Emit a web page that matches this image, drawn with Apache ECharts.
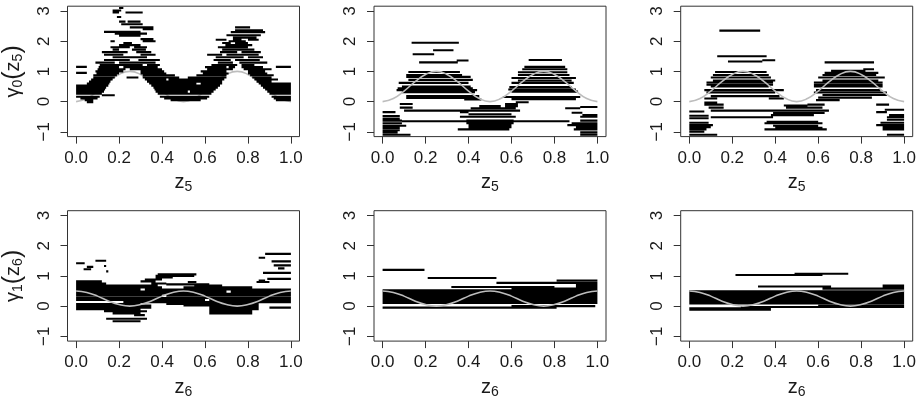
<!DOCTYPE html>
<html><head><meta charset="utf-8">
<style>html,body{margin:0;padding:0;background:#fff}#c{width:920px;height:409px}</style>
<script src="https://cdn.jsdelivr.net/npm/echarts@6/dist/echarts.min.js"></script>
</head><body><div id="c"></div>
<script>
// Each row: [y, x0, x1, x0, x1, ...] horizontal runs
const rowsTopA = [
[3.1,.2,.22],[3.02,.17,.21],[2.95,.17,.2,.23,.31],[2.8,.19,.21],[2.65,.2,.23,.24,.3],[2.56,.21,.31],[2.46,.25,.36],[2.4,.31,.36],
[2.31,.13,.2,.18,.3],[2.25,.18,.33],[2.18,.2,.3],[2.07,.3,.36],[2.0,.16,.18,.31,.37],[1.94,.22,.26,.68,.72,.74,.8],
[2.46,.74,.81],[2.36,.74,.87],[2.3,.72,.88],[2.2,.7,.86],[2.12,.73,.84],[2.05,.65,.7,.73,.77,.8,.85],[2.0,.71,.79],
[1.87,.2,.3,.695,.82],[1.8,.16,.25,.27,.33,.66,.8],[1.72,.17,.2,.26,.325,.68,.83],[1.64,.12,.24,.28,.35,.67,.75,.77,.86],[1.55,.13,.22,.3,.37,.61,.68,.7,.85],[1.47,.17,.33,.65,.78,.8,.87],
[1.38,.13,.25,.29,.39,.64,.72,.74,.855],[1.29,.09,.18,.2,.37,.66,.73,.76,.89],[1.21,.11,.31,.33,.39,.63,.75,.77,.83],[1.14,.105,.2,.22,.38,.6,.7,.71,.74,.77,.87],[1.07,.1,.23,.25,.4,.61,.73,.78,.91],
[1.0,.09,.22,.3,.41,.58,.7,.8,.88],[.93,.095,.2,.3,.42,.59,.71,.8,.89],[.87,.08,.19,.31,.46,.56,.7,.81,.92],[.8,.08,.18,.235,.29,.31,.48,.52,.7,.82,.91],
[.73,.07,.17,.32,.42,.43,.69,.83,.94],[.66,.06,.16,.33,.68,.84,.91],[.6,.05,.155,.34,.56,.58,.68,.85,1],[.53,0,.15,.35,.67,.86,1],[.46,0,.14,.36,.66,.87,1],
[.4,0,.135,.365,.65,.88,1],[.33,0,.13,.37,.52,.53,.64,.89,1],[.26,0,.12,.38,.63,.9,1],[.21,.12,.18],[.16,0,.11,.39,.62,.91,1],[.1,.02,.1,.41,.61,.92,1],[.05,.04,.08,.44,.58,.93,1],[-.02,.05,.08],
[1.15,0,.05,.93,1],[.95,0,.05]
];
const rowsTopB = [
[1.95,.135,.355],[1.7,.235,.33],[1.57,.14,.24],[1.3,.17,.35],[1.36,.345,.4],
[.98,.12,.36],[.88,.11,.37],[.82,.11,.41],[.72,.12,.42],[.62,.075,.4],[.5,.09,.41],[.44,.07,.42],[.38,.065,.44],[.31,.09,.43],[.18,.11,.45],[.12,.11,.45],[.07,.38,.46],
[1.38,.68,.835],[1.15,.66,.85],[1.07,.65,.86],[.97,.63,.86],[.88,.63,.87],[.78,.6,.9],[.7,.63,.88],[.62,.6,.89],[.48,.59,.88],[.4,.585,.9],[.33,.6,.91],[.15,.56,.92],[.08,.6,.9],
[-.02,.62,.68],[-.08,.08,.14,.57,.63],[-.15,.45,.55,.57,.63],[-.22,.41,.62,.85,.92],[-.2,.08,.14],[-.18,.92,1],[-.3,.1,.64],[-.35,.36,.4,0,.06],[-.37,.88,.93],[-.42,.4,.6],[-.5,.36,.62,.92,1],
[-.65,.09,.87],[-.45,.93,1],[-.48,0,.08],[-.56,0,.08],[-.63,0,.09,.39,.61,.92,1],[-.72,0,.09,.39,.61,.88,1],[-.78,.4,.6,.86,1],[-.8,0,.11],[-.85,.4,.6,.9,1],[-.87,0,.08],[-.92,.35,.59,.89,1],[-.95,0,.08],[-1.02,0,.07,.92,1],[-1.1,0,.13,.92,1]
];
const rowsTopC = [
[2.35,.14,.33],[1.5,.13,.36],[1.33,.18,.34],[1.37,.34,.4],[.98,.12,.36],[.88,.11,.37],[.8,.1,.38],[.7,.11,.4],[.63,.08,.39],[.56,.08,.39],[.5,.1,.37],[.38,.07,.44],[.3,.08,.4],[.18,.1,.42],[.1,.07,.13,.37,.44],
[1.3,.63,.86],[1.02,.66,.82],[1.07,.81,.86],[.95,.63,.88],[.88,.62,.87],[.8,.6,.91],[.7,.62,.88],[.63,.58,.9],[.56,.58,.9],[.5,.58,.9],[.38,.59,.89],[.3,.58,.92],[.22,.62,.92],[.13,.6,.85],[.05,.59,.7],
[-.1,.07,.16,.55,.63,.87,.93],[-.03,.07,.13],[-.13,.44,.55],[-.2,.09,.16,.45,.62],[-.27,.91,1],[-.3,.1,.65],[-.33,0,.07],[-.35,.87,.92],[-.38,.39,.63],[-.45,.38,.58,.93,1],[-.47,0,.09],[-.52,.1,.39,.92,1],[-.55,0,.09],[-.6,.92,1],
[-.67,.36,.6],[-.7,0,.09,.89,1],[-.72,.35,.62],[-.78,0,.11,.87,1],[-.8,.39,.6],[-.85,0,.1,.9,1],[-.87,.4,.62],[-.92,0,.08,.35,.64,.9,1],[-1,0,.07],[-1.1,0,.13,.92,1]
];
const rowsBottomA = [
[1.42,0,.04],[1.22,.035,.07],[1.3,.05,.08],[1.5,.09,.14],[1.33,.13,.14],[1.15,.14,.15],
[1.73,.88,1],[1.6,.85,.88],[1.48,.91,1],[1.35,.92,1],[1.25,.94,.97],[1.1,.87,1],[.9,.89,1],[.85,.85,.88],[.8,.84,.9,.52,.56],
[1.05,.38,.56],[1,.37,.55],[.95,.37,.45],[.88,.32,.4],[.82,0,.12,.3,.37],[.75,0,.14,.35,.42],[.72,.42,.62],
[.68,0,.38,.55,.68],[.62,0,.4,.5,.82],[.55,0,.3,.32,1],[.48,0,.7,.72,1],[.41,0,1],[.34,0,.4,.42,1],[.27,0,1],[.2,0,.6,.62,1],[.13,.22,1],[.07,0,.3,.42,.85],[.02,0,.35,.5,.85],[-.05,0,.35,.62,.85,.9,1],[-.1,0,.3,.62,.85],[-.17,.13,.33,.62,.82],[-.24,.17,.3,.62,.82],
[-.3,.27,.32],[-.42,.14,.33],[-.5,.17,.3]
];
const rowsBottomB = [
[1.2,0,.195],[.93,.21,.53],[.85,.81,1],[.77,.53,.78,.78,1],[.7,.9,1],[.63,.32,.8,.9,1],[.58,.6,1],
[.52,0,1],[.46,0,1],[.4,0,1],[.34,0,1],[.28,0,1],[.22,0,1],[.16,0,1],[.1,0,1],[0,.6,.99],[-.05,0,.81]
];
const rowsBottomC = [
[1.03,.215,.62],[1.07,.49,.74],[.65,.32,.66],[.68,.9,1],[.62,.9,1],[.58,.62,.75,.75,1],
[.49,0,1],[.43,0,1],[.37,0,1],[.31,0,1],[.25,0,1],[.19,0,1],[.13,0,1],[.09,0,1],[.01,.6,1],[-.03,.24,1],[-.07,0,.38],[-.12,0,.38]
];
// True curves
const zGrid = [0,.05,.1,.15,.2,.25,.3,.35,.4,.45,.5,.55,.6,.65,.7,.75,.8,.85,.9,.95,1];
const trueGamma0 = [0,.1,.35,.65,.9,1,.9,.65,.35,.1,0,.1,.35,.65,.9,1,.9,.65,.35,.1,0];
const trueGamma1 = [.5,.45,.33,.17,.05,0,.05,.17,.33,.45,.5,.45,.33,.17,.05,0,.05,.17,.33,.45,.5];
const xTicks = [0,.2,.4,.6,.8,1];
const yTicks = [-1,0,1,2,3];

const panels = [
 {rows:rowsTopA,   truth:trueGamma0, col:0,row:0,sub:'5', yname:'{g|γ}{s|0}{p|(}{g|z}{s|5}{p|)}',greyZ:1},
 {rows:rowsTopB,   truth:trueGamma0, col:1,row:0,sub:'5',greyZ:3},
 {rows:rowsTopC,   truth:trueGamma0, col:2,row:0,sub:'5',greyZ:3},
 {rows:rowsBottomA,truth:trueGamma1, col:0,row:1,sub:'6', yname:'{g|γ}{s|1}{p|(}{g|z}{s|6}{p|)}',greyZ:3},
 {rows:rowsBottomB,truth:trueGamma1, col:1,row:1,sub:'6',greyZ:3},
 {rows:rowsBottomC,truth:trueGamma1, col:2,row:1,sub:'6',greyZ:3}
];
const colLeft=[67.5,374,680.7], rowTop=[6.2,210.7];
const FONT='"Liberation Sans",Arial,sans-serif', INK='#1a1a1a';
const rich={
  g:{fontFamily:FONT,fontSize:20,color:INK},
  s:{fontFamily:FONT,fontSize:14,color:INK,padding:[10,0,0,0]},
  p:{fontFamily:FONT,fontSize:25,color:INK}
};
const option={animation:false,backgroundColor:'#fff',grid:[],xAxis:[],yAxis:[],series:[]};
panels.forEach((p,i)=>{
  option.grid.push({left:colLeft[p.col],top:rowTop[p.row],width:232,height:130.4,show:true,borderColor:'#333',borderWidth:1,backgroundColor:'transparent',containLabel:false,outerBoundsMode:'none'});
  option.xAxis.push({type:'value',gridIndex:i,min:-.04,max:1.04,
    name:'{g|z}{s|'+p.sub+'}',nameLocation:'middle',nameGap:34,
    nameTextStyle:{fontFamily:FONT,fontSize:20,color:INK,rich},
    axisLine:{show:false,onZero:false},splitLine:{show:false},
    axisTick:{show:true,length:7,customValues:xTicks,lineStyle:{color:'#333',width:1}},
    axisLabel:{show:true,customValues:xTicks,margin:13,fontFamily:FONT,fontSize:17,color:INK,formatter:v=>v.toFixed(1),hideOverlap:false}});
  option.yAxis.push({type:'value',gridIndex:i,min:-1.16,max:3.16,
    name:p.yname||'',nameLocation:'middle',nameGap:42,nameRotate:90,
    nameTextStyle:{fontFamily:FONT,fontSize:20,color:INK,rich},
    axisLine:{show:false,onZero:false},splitLine:{show:false},
    axisTick:{show:true,length:7,customValues:yTicks,lineStyle:{color:'#333',width:1}},
    axisLabel:{show:true,customValues:yTicks,rotate:90,margin:15,fontFamily:FONT,fontSize:17,color:INK,formatter:v=>v<0?'\u2212'+(-v):''+v,hideOverlap:false}});
  const pts=[];
  p.rows.forEach(r=>{for(let k=1;k<r.length;k+=2){pts.push([r[k],r[0]],[r[k+1],r[0]],[r[k+1],null]);}});
  option.series.push({type:'line',xAxisIndex:i,yAxisIndex:i,data:pts,showSymbol:false,symbol:'none',connectNulls:false,silent:true,
    lineStyle:{color:'#000',width:2.1,cap:'butt'},z:2});
  option.series.push({type:'line',xAxisIndex:i,yAxisIndex:i,data:zGrid.map((z,j)=>[z,p.truth[j]]),smooth:true,showSymbol:false,symbol:'none',silent:true,
    lineStyle:{color:'#bdbdbd',width:1.6},z:p.greyZ});
});
echarts.init(document.getElementById('c'),null,{renderer:'canvas'}).setOption(option);
</script></body></html>
